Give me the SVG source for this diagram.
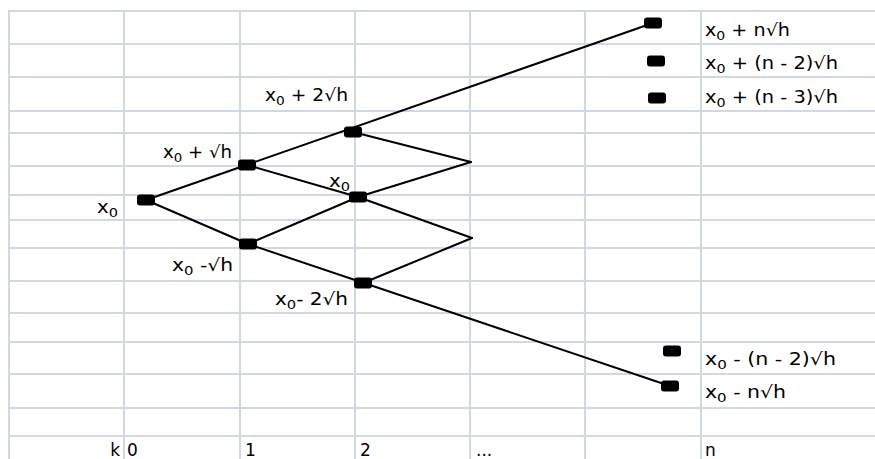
<svg xmlns="http://www.w3.org/2000/svg" width="875" height="459" viewBox="0 0 875 459">
  <style>
    .grid line { stroke: #d0d7e5; stroke-width: 2; }
    .edges line { stroke: #000; stroke-width: 2; stroke-linecap: round; }
    .node rect { fill: #000; }
    text { font-family: "DejaVu Sans", Verdana, sans-serif; font-size: 17px; fill: #000; }
    .sub { font-size: 12.5px; }
  </style>
  <defs>
    <rect id="dot" x="-9" y="-5.5" width="18" height="11" rx="3" ry="3"/>
  </defs>
  <rect width="875" height="459" fill="#fff"/>

  <!-- spreadsheet grid -->
  <g class="grid">
    <line x1="9" y1="11" x2="875" y2="11"/>
    <line x1="9" y1="44" x2="875" y2="44"/>
    <line x1="9" y1="77" x2="875" y2="77"/>
    <line x1="9" y1="111" x2="875" y2="111"/>
    <line x1="9" y1="133" x2="875" y2="133"/>
    <line x1="9" y1="166" x2="875" y2="166"/>
    <line x1="9" y1="195" x2="875" y2="195"/>
    <line x1="9" y1="220" x2="875" y2="220"/>
    <line x1="9" y1="248" x2="875" y2="248"/>
    <line x1="9" y1="281" x2="875" y2="281"/>
    <line x1="9" y1="313" x2="875" y2="313"/>
    <line x1="9" y1="342" x2="875" y2="342"/>
    <line x1="9" y1="374" x2="875" y2="374"/>
    <line x1="9" y1="408" x2="875" y2="408"/>
    <line x1="9" y1="436" x2="875" y2="436"/>
    <line x1="9" y1="10" x2="9" y2="459"/>
    <line x1="124" y1="10" x2="124" y2="459"/>
    <line x1="240" y1="10" x2="240" y2="459"/>
    <line x1="355" y1="10" x2="355" y2="459"/>
    <line x1="470" y1="10" x2="470" y2="459"/>
    <line x1="585" y1="10" x2="585" y2="459"/>
    <line x1="701" y1="10" x2="701" y2="459"/>
  </g>

  <!-- lattice connectors -->
  <g class="edges" id="connectors">
    <line x1="146" y1="200" x2="653" y2="23"/>
    <line x1="146" y1="200" x2="248" y2="244"/>
    <line x1="248" y1="244" x2="670" y2="386"/>
    <line x1="247" y1="165" x2="358" y2="197"/>
    <line x1="248" y1="244" x2="358" y2="197"/>
    <line x1="353" y1="132" x2="471" y2="162"/>
    <line x1="358" y1="197" x2="471" y2="162"/>
    <line x1="358" y1="197" x2="472" y2="238"/>
    <line x1="363" y1="283" x2="472" y2="238"/>
  </g>

  <!-- lattice nodes -->
  <g class="node" id="n-0-0"><use href="#dot" x="146" y="200"/></g>
  <g class="node" id="n-1-up"><use href="#dot" x="247" y="165"/></g>
  <g class="node" id="n-1-down"><use href="#dot" x="248" y="244"/></g>
  <g class="node" id="n-2-up"><use href="#dot" x="353" y="132"/></g>
  <g class="node" id="n-2-mid"><use href="#dot" x="358" y="197"/></g>
  <g class="node" id="n-2-down"><use href="#dot" x="363" y="283"/></g>
  <g class="node" id="n-n-top"><use href="#dot" x="653" y="23"/></g>
  <g class="node" id="n-n-2"><use href="#dot" x="656" y="61"/></g>
  <g class="node" id="n-n-3"><use href="#dot" x="657" y="98"/></g>
  <g class="node" id="n-n-minus2"><use href="#dot" x="672" y="351"/></g>
  <g class="node" id="n-n-bottom"><use href="#dot" x="670" y="386"/></g>

  <!-- value labels -->
  <g id="labels">
    <text x="265" y="101" textLength="83" lengthAdjust="spacingAndGlyphs">x<tspan class="sub" dy="3.5">0</tspan><tspan dy="-3.5"> + 2√h</tspan></text>
    <text x="163" y="158" textLength="69" lengthAdjust="spacingAndGlyphs">x<tspan class="sub" dy="3.5">0</tspan><tspan dy="-3.5"> + √h</tspan></text>
    <text x="97" y="213" textLength="21" lengthAdjust="spacingAndGlyphs">x<tspan class="sub" dy="3.5">0</tspan></text>
    <text x="329" y="187" textLength="21" lengthAdjust="spacingAndGlyphs">x<tspan class="sub" dy="3.5">0</tspan></text>
    <text x="172" y="271" textLength="61" lengthAdjust="spacingAndGlyphs">x<tspan class="sub" dy="3.5">0</tspan><tspan dy="-3.5"> -√h</tspan></text>
    <text x="275" y="305" textLength="73" lengthAdjust="spacingAndGlyphs">x<tspan class="sub" dy="3.5">0</tspan><tspan dy="-3.5">- 2√h</tspan></text>
    <text x="705" y="36" textLength="85" lengthAdjust="spacingAndGlyphs">x<tspan class="sub" dy="3.5">0</tspan><tspan dy="-3.5"> + n√h</tspan></text>
    <text x="705" y="69" textLength="133" lengthAdjust="spacingAndGlyphs">x<tspan class="sub" dy="3.5">0</tspan><tspan dy="-3.5"> + (n - 2)√h</tspan></text>
    <text x="705" y="103" textLength="133" lengthAdjust="spacingAndGlyphs">x<tspan class="sub" dy="3.5">0</tspan><tspan dy="-3.5"> + (n - 3)√h</tspan></text>
    <text x="705" y="365" textLength="131" lengthAdjust="spacingAndGlyphs">x<tspan class="sub" dy="3.5">0</tspan><tspan dy="-3.5"> - (n - 2)√h</tspan></text>
    <text x="705" y="398" textLength="81" lengthAdjust="spacingAndGlyphs">x<tspan class="sub" dy="3.5">0</tspan><tspan dy="-3.5"> - n√h</tspan></text>
  </g>

  <!-- step axis -->
  <g id="axis">
    <text x="120" y="456" text-anchor="end">k</text>
    <text x="127" y="456">0</text>
    <text x="245" y="456">1</text>
    <text x="360" y="456">2</text>
    <text x="476" y="456">...</text>
    <text x="705" y="456">n</text>
  </g>
</svg>
